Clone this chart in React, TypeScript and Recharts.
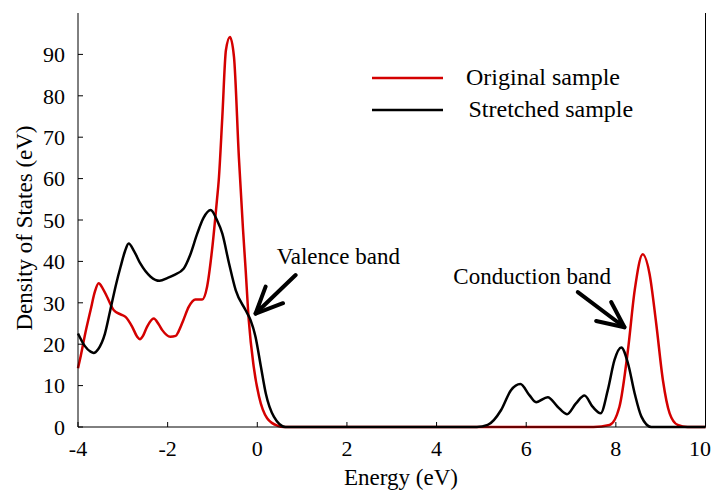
import { LineChart, Line, XAxis, YAxis, Legend } from 'recharts';

// Original sample (red)
const originalEnergy = [
  -4, -3.95, -3.85, -3.72, -3.62, -3.54, -3.45, -3.35, -3.2, -3.05, -2.94, -2.79, -2.68, -2.62,
  -2.55, -2.46, -2.31, -2.2, -2.12, -1.94, -1.82, -1.76, -1.65, -1.53, -1.38, -1.23, -1.12,
  -1.01, -0.9, -0.86, -0.78, -0.7, -0.61, -0.52, -0.41, -0.32, -0.26, -0.19, -0.08, 0.04, 0.22,
  0.45, 0.6, 1, 7.5, 7.86, 8.08, 8.27, 8.42, 8.6, 8.75, 8.9, 9.05, 9.2, 9.38, 9.6, 10,
];
const originalDos = [
  14.2, 16.6, 22, 28.2, 32.8, 34.7, 33.5, 31.4, 28.2, 27.2, 26.6, 24.2, 21.8, 21.2,
  22, 24.2, 26.2, 24.8, 23.4, 21.8, 22, 23, 25.8, 29, 30.8, 30.8, 33.9,
  42.7, 54.8, 59.6, 74.9, 91, 94.2, 89.4, 65, 48, 38, 25.8, 14.6, 7.3, 2.1,
  0.3, 0, 0, 0, 0.5, 4.9, 18.6, 33, 41.7, 37.1, 25, 11.3, 3.3, 0.5, 0, 0,
];

// Stretched sample (black)
const stretchedEnergy = [
  -4, -3.85, -3.72, -3.65, -3.55, -3.4, -3.28, -3.15, -3.05, -2.95, -2.87, -2.75, -2.61, -2.38,
  -2.18, -2.0, -1.86, -1.64, -1.5, -1.34, -1.2, -1.04, -0.9, -0.78, -0.63, -0.48, -0.26, -0.15,
  -0.04, 0.08, 0.19, 0.37, 0.63, 1, 4.9, 5.14, 5.44, 5.66, 5.87, 6.07, 6.22, 6.48, 6.7, 6.91,
  7.11, 7.3, 7.48, 7.66, 7.82, 7.97, 8.12, 8.27, 8.42, 8.57, 8.79, 9.1, 10,
];
const stretchedDos = [
  22.6, 19.6, 18.2, 17.9, 18.8, 22.5, 28.2, 34.5, 38.7, 42.5, 44.3, 42.5, 39.5, 36.3,
  35.3, 36.0, 36.7, 38.3, 41.5, 46.7, 50.5, 52.4, 50, 46.7, 39.5, 33, 28.2, 25.8,
  21.8, 14.6, 8.1, 2.5, 0, 0, 0, 0.5, 4.1, 8.9, 10.4, 7.7, 6, 7.2, 4.9, 3.1,
  5.7, 7.6, 4.9, 3.3, 8.9, 16.2, 19.2, 15.4, 8.1, 2.5, 0, 0, 0,
];

const xTicks = [-4, -2, 0, 2, 4, 6, 8, 10];
const yTicks = [0, 10, 20, 30, 40, 50, 60, 70, 80, 90];
const frameYTicks = [0, 10, 20, 30, 40, 50, 60, 70, 80, 90, 100];

// annotation arrows in data units: tail -> tip -> wing, and second wing -> tip
const valenceArrowE = [0.856, -0.038, 0.186];
const valenceArrowD = [36.7, 27.4, 33.9];
const valenceWingE = [0.573, -0.038];
const valenceWingD = [29.9, 27.4];
const conductionArrowE = [7.151, 8.192, 7.895];
const conductionArrowD = [32.6, 24.1, 30.2];
const conductionWingE = [7.56, 8.192];
const conductionWingD = [25.6, 24.1];

const toRows = (es: number[], ds: number[]) => es.map((e, i) => ({ e, dos: ds[i] }));
const originalData = toRows(originalEnergy, originalDos);
const stretchedData = toRows(stretchedEnergy, stretchedDos);
const arrows = [
  toRows(valenceArrowE, valenceArrowD),
  toRows(valenceWingE, valenceWingD),
  toRows(conductionArrowE, conductionArrowD),
  toRows(conductionWingE, conductionWingD),
];

const RED = '#d40000';

function LegendBox(props: any) {
  const items = (props.payload || []).filter((p: any) => p.type !== 'none' && p.value);
  const offsets = [0, 2.5];
  return (
    <div style={{ fontSize: 24, color: '#000' }}>
      {items.map((p: any, i: number) => (
        <div key={p.value} style={{ display: 'flex', height: 32, lineHeight: '32px', alignItems: 'flex-start' }}>
          <svg width={94 + offsets[i]} height={32}>
            <line x1={0} x2={71} y1={17} y2={17} stroke={p.color} strokeWidth={2.5} />
          </svg>
          <span style={{ whiteSpace: 'nowrap' }}>{p.value}</span>
        </div>
      ))}
    </div>
  );
}

export default function App() {
  return (
    <div style={{ position: 'absolute', left: 0, top: 0, background: '#fff' }}>
      <LineChart width={711} height={490} margin={{ top: 13, right: 0, bottom: 0, left: 0 }}>
        <XAxis
          dataKey="e"
          type="number"
          domain={[-4, 10]}
          ticks={xTicks}
          allowDuplicatedCategory={false}
          height={63}
          stroke="#000"
          tickSize={-5}
          tickMargin={18}
          tick={{ fill: '#000', fontSize: 22 }}
        />
        <XAxis
          xAxisId="top"
          orientation="top"
          type="number"
          domain={[-4, 10]}
          ticks={xTicks}
          height={0}
          stroke="#000"
          tickSize={-5}
          tick={false}
        />
        <YAxis
          type="number"
          domain={[0, 100]}
          ticks={yTicks}
          width={78}
          stroke="#000"
          tickSize={-5}
          tickMargin={18}
          tick={{ fill: '#000', fontSize: 22 }}
        />
        <YAxis
          yAxisId="right"
          orientation="right"
          type="number"
          domain={[0, 100]}
          ticks={frameYTicks}
          width={5.5}
          stroke="#000"
          tickSize={-5}
          tick={false}
        />
        <Legend
          layout="horizontal"
          verticalAlign="middle"
          content={LegendBox}
          wrapperStyle={{ position: 'absolute', left: 372, top: 60.5, width: 330, height: 70 }}
        />
        <Line
          data={originalData}
          dataKey="dos"
          name="Original sample"
          type="monotone"
          stroke={RED}
          strokeWidth={2.5}
          dot={false}
          activeDot={false}
          isAnimationActive={false}
        />
        <Line
          data={stretchedData}
          dataKey="dos"
          name="Stretched sample"
          type="monotone"
          stroke="#000"
          strokeWidth={2.5}
          dot={false}
          activeDot={false}
          isAnimationActive={false}
        />
        {arrows.map((rows, i) => (
          <Line
            key={'arrow' + i}
            data={rows}
            dataKey="dos"
            type="linear"
            stroke="#000"
            strokeWidth={4}
            strokeLinecap="round"
            strokeLinejoin="round"
            legendType="none"
            dot={false}
            activeDot={false}
            isAnimationActive={false}
          />
        ))}
        <text x={276.7} y={263.5} fontSize={23} fill="#000">Valence band</text>
        <text x={453.3} y={284.3} fontSize={23} fill="#000">Conduction band</text>
        <text x={401} y={485} fontSize={23} fill="#000" textAnchor="middle">Energy (eV)</text>
        <text x={32} y={228} fontSize={23} fill="#000" textAnchor="middle" transform="rotate(-90, 32, 228)">
          Density of States (eV)
        </text>
      </LineChart>
    </div>
  );
}
